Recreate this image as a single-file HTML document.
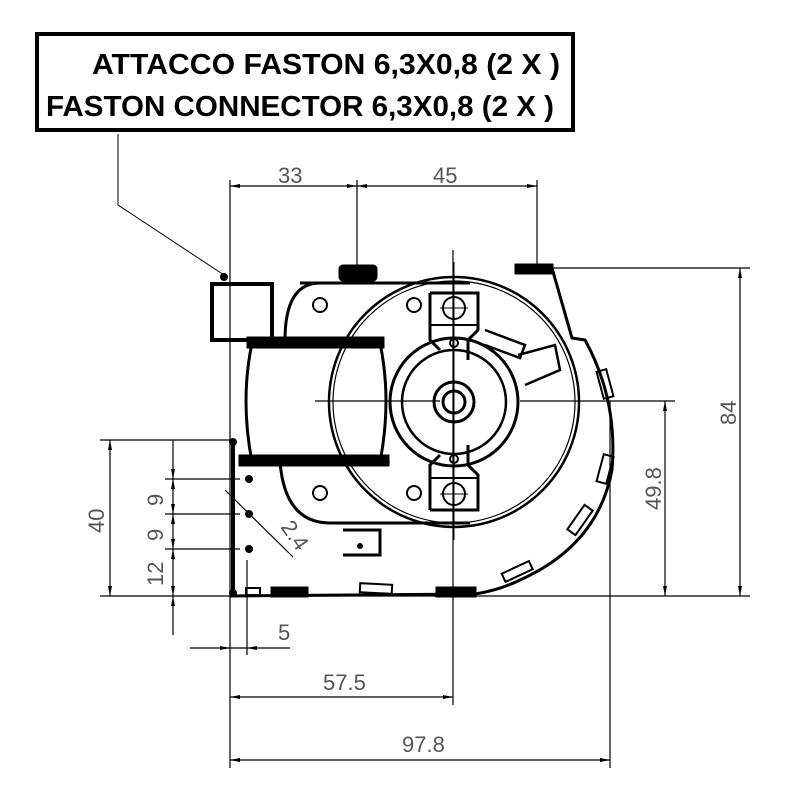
<!DOCTYPE html>
<html><head><meta charset="utf-8"><style>html,body{margin:0;padding:0;background:#fff}svg{display:block}</style></head>
<body>
<svg width="800" height="800" viewBox="0 0 800 800" xmlns="http://www.w3.org/2000/svg" font-family="Liberation Sans, sans-serif">
<defs>
<marker id="a" viewBox="0 0 10 4" refX="10" refY="2" markerWidth="10" markerHeight="4" markerUnits="userSpaceOnUse" orient="auto-start-reverse"><path d="M0,0 L10,2 L0,4 Z" fill="#000"/></marker>
</defs>
<rect x="37" y="34" width="536" height="96" fill="none" stroke="#000" stroke-width="4"/>
<text x="92" y="74" font-size="29" font-weight="bold" textLength="468" lengthAdjust="spacingAndGlyphs">ATTACCO FASTON 6,3X0,8 (2 X )</text>
<text x="46" y="116" font-size="29" font-weight="bold" textLength="508" lengthAdjust="spacingAndGlyphs">FASTON CONNECTOR 6,3X0,8 (2 X )</text>
<polyline points="118,134 118,205 224,275" fill="none" stroke="#000" stroke-width="1"/>
<circle cx="224" cy="277" r="4"/>

<g stroke="#000" stroke-width="1.2" fill="none">
<line x1="230" y1="180" x2="230" y2="768"/>
<line x1="357" y1="180" x2="357" y2="268"/>
<line x1="537" y1="180" x2="537" y2="268"/>
<line x1="552" y1="268" x2="750" y2="268"/>
<line x1="100" y1="596" x2="750" y2="596"/>
<line x1="520" y1="401" x2="675" y2="401"/>
<line x1="100" y1="440" x2="236" y2="440"/>
<line x1="165" y1="479" x2="240" y2="479"/>
<line x1="165" y1="514" x2="240" y2="514"/>
<line x1="165" y1="549" x2="240" y2="549"/>
<line x1="247" y1="560" x2="247" y2="655"/>
<line x1="453" y1="250" x2="453" y2="705"/>
<line x1="610" y1="401" x2="610" y2="768"/>
<line x1="315" y1="401" x2="440" y2="401"/>
<line x1="230" y1="186" x2="357" y2="186" marker-start="url(#a)" marker-end="url(#a)"/>
<line x1="357" y1="186" x2="537" y2="186" marker-start="url(#a)" marker-end="url(#a)"/>
<line x1="740" y1="268" x2="740" y2="596" marker-start="url(#a)" marker-end="url(#a)"/>
<line x1="665" y1="401" x2="665" y2="596" marker-start="url(#a)" marker-end="url(#a)"/>
<line x1="110" y1="440" x2="110" y2="596" marker-start="url(#a)" marker-end="url(#a)"/>
<line x1="173" y1="440" x2="173" y2="479" marker-end="url(#a)"/>
<line x1="173" y1="479" x2="173" y2="514" marker-start="url(#a)" marker-end="url(#a)"/>
<line x1="173" y1="514" x2="173" y2="549" marker-start="url(#a)" marker-end="url(#a)"/>
<line x1="173" y1="549" x2="173" y2="596" marker-start="url(#a)" marker-end="url(#a)"/>
<line x1="173" y1="596" x2="173" y2="635" marker-start="url(#a)"/>
<line x1="190" y1="648" x2="230" y2="648" marker-end="url(#a)"/>
<line x1="247" y1="648" x2="290" y2="648" marker-start="url(#a)"/>
<line x1="230" y1="648" x2="247" y2="648"/>
<line x1="230" y1="697" x2="453" y2="697" marker-start="url(#a)" marker-end="url(#a)"/>
<line x1="230" y1="760" x2="610" y2="760" marker-start="url(#a)" marker-end="url(#a)"/>
<line x1="225" y1="490" x2="293" y2="557"/>
</g>
<g fill="#555" font-size="22">
<text x="278" y="183">33</text>
<text x="433" y="183">45</text>
<text x="323" y="690">57.5</text>
<text x="402" y="752">97.8</text>
<text x="278" y="640">5</text>
<text transform="translate(736,425) rotate(-90)">84</text>
<text transform="translate(661,510) rotate(-90)">49.8</text>
<text transform="translate(104,533) rotate(-90)">40</text>
<text transform="translate(163,506) rotate(-90)">9</text>
<text transform="translate(163,541) rotate(-90)">9</text>
<text transform="translate(163,586) rotate(-90)">12</text>
<text transform="translate(280,527) rotate(55)">2.4</text>
</g>

<g stroke="#000" fill="none" stroke-width="3">
<rect x="212" y="284" width="60" height="56" stroke-width="4"/>
<rect x="340" y="266" width="36" height="14" fill="#000" rx="3"/>
<rect x="516" y="265" width="36" height="8" fill="#000"/>
<path d="M552,268 L572,338 L585,340 Q618,400 612,470 Q598,545 520,580 Q500,590 475,594 L230,596"/>
<circle cx="454" cy="402" r="125" stroke-width="2.5"/>
<circle cx="454" cy="402" r="121" stroke-width="1.2"/>
<path d="M300,283 L470,283 M285,340 Q285,283 320,283 M280,462 Q285,523 330,523 L470,523"/>
<path d="M252,343 Q240,400 252,462 M380,343 Q392,400 380,462"/>
<rect x="248" y="338" width="135" height="9" fill="#000"/>
<rect x="240" y="456" width="148" height="9" fill="#000"/>
<circle cx="454" cy="402" r="64"/>
<circle cx="454" cy="402" r="52" stroke-width="2.5"/>
<circle cx="454" cy="402" r="20"/>
<circle cx="454" cy="402" r="11"/>
<path d="M430,293 L478,293 L478,330 L468,340 L468,360 M430,293 L430,340 L440,350 M430,510 L478,510 L478,475 L468,465 L468,445 M430,510 L430,465 L440,455"/>
<path d="M430,325 L478,325 M430,478 L478,478" stroke-width="2"/>
<path d="M485,330 L525,345 L520,358 L485,345 M518,355 L555,345 L560,370 L525,385" stroke-width="2.5"/>
<path d="M233,442 L233,596" stroke-width="4"/>
<path d="M240,462 L390,462" stroke-width="1"/>
<path d="M343,530 L380,530 L380,555 L343,555" stroke-width="3"/>
<rect x="272" y="588" width="35" height="8" fill="#000"/>
<rect x="437" y="588" width="38" height="8" fill="#000"/>
<g stroke-width="2">
<rect x="246" y="588" width="14" height="7"/>
<rect x="360" y="584" width="32" height="9" transform="rotate(3 376 588)"/>
<rect x="600" y="370" width="10" height="28" transform="rotate(-15 605 384)"/>
<rect x="600" y="455" width="10" height="28" transform="rotate(15 605 469)"/>
<rect x="575" y="505" width="10" height="30" transform="rotate(35 580 520)"/>
<rect x="502" y="567" width="30" height="9" transform="rotate(-25 517 571)"/>
</g>
</g>
<g fill="none" stroke="#000" stroke-width="2">
<circle cx="320" cy="305" r="7"/><circle cx="414" cy="305" r="7"/>
<circle cx="320" cy="493" r="7"/><circle cx="414" cy="493" r="7"/>
<circle cx="454" cy="308" r="11"/><circle cx="454" cy="494" r="11"/>
<circle cx="454" cy="343" r="4"/><circle cx="454" cy="459" r="4"/>
</g>
<g fill="#000">
<circle cx="249" cy="479" r="4"/><circle cx="249" cy="514" r="4"/><circle cx="249" cy="549" r="4"/>
<circle cx="360" cy="546" r="3"/>
<circle cx="233" cy="442" r="4"/><circle cx="233" cy="593" r="4"/>
</g>
<g stroke="#000" stroke-width="1">
<line x1="454" y1="262" x2="454" y2="540"/>
<line x1="440" y1="308" x2="468" y2="308"/><line x1="440" y1="494" x2="468" y2="494"/>
<line x1="537" y1="401" x2="610" y2="401"/>
</g>
</svg>
</body></html>
